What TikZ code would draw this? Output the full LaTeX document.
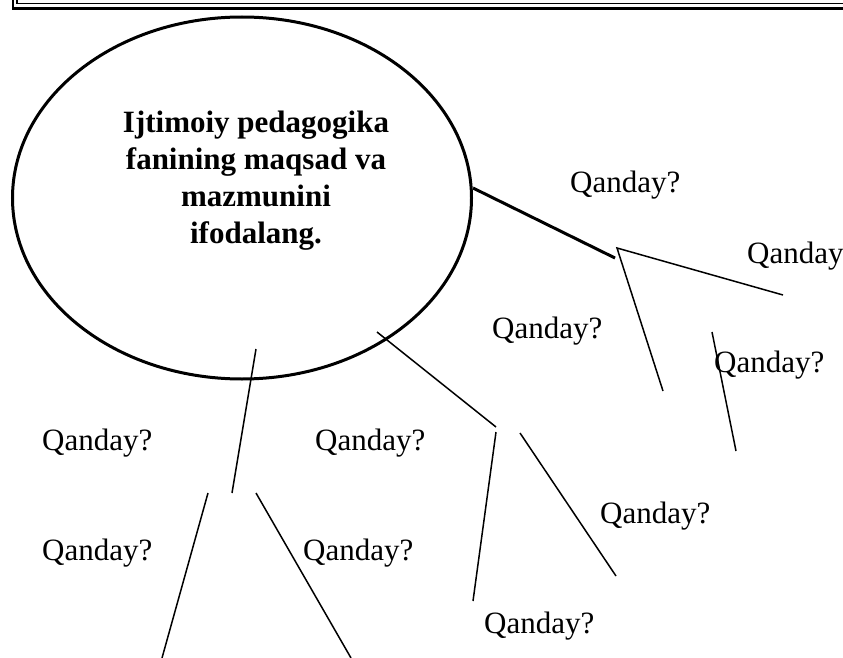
\documentclass[tikz,border=0pt]{standalone}
\usepackage{fontspec}
\setmainfont{Liberation Serif}
\usetikzlibrary{shapes.geometric}
\begin{document}
\begin{tikzpicture}[x=1pt,y=-1pt,
  qtext/.style={anchor=base west, inner sep=0pt, font=\fontsize{31}{37}\selectfont},
  thinline/.style={line width=1.5pt},
  thickline/.style={line width=3pt},
  goalshape/.style={draw, ellipse, line width=3pt, minimum width=459pt, minimum height=362pt, inner sep=0pt}]
\useasboundingbox (0,0) rectangle (843,658);
% top border
\draw[line width=2.5pt] (13,-2) -- (13,8.5) -- (845,8.5);
\draw[line width=1.5pt] (17,-2) -- (17,3.5) -- (845,3.5);
% central ellipse
\node[goalshape] (goal) at (242,198) {};
\node[align=center, inner sep=0pt, font=\bfseries\fontsize{31}{37}\selectfont] (goaltext) at (256,181)
  {Ijtimoiy pedagogika\\fanining maqsad va\\mazmunini\\ifodalang.};
% coordinates
\coordinate (t1) at (473,188);
\coordinate (t2) at (615,258);
\coordinate (a1) at (617,248);
\coordinate (r1) at (783,295);
\coordinate (r2) at (663,391);
\coordinate (r3) at (712,332);
\coordinate (r4) at (736,451);
\coordinate (m1) at (377,332);
\coordinate (m2) at (496,427);
\coordinate (m3) at (496,432);
\coordinate (m4) at (473,601);
\coordinate (m5) at (520,433);
\coordinate (m6) at (616,576);
\coordinate (b1) at (256,349);
\coordinate (b2) at (232,493);
\coordinate (b3) at (208,493);
\coordinate (b4) at (162,658);
\coordinate (b5) at (256,493);
\coordinate (b6) at (351,658);
% connectors
\draw[thickline] (t1) -- (t2);
\draw[thinline] (r2) -- (a1) -- (r1);
\draw[thinline] (r3) -- (r4);
\draw[thinline] (m1) -- (m2);
\draw[thinline] (m3) -- (m4);
\draw[thinline] (m5) -- (m6);
\draw[thinline] (b1) -- (b2);
\draw[thinline] (b3) -- (b4);
\draw[thinline] (b5) -- (b6);
% labels
\node[qtext] (q1) at (570,192) {Qanday?};
\node[qtext] (q2) at (747,263) {Qanday};
\node[qtext] (q3) at (492,338) {Qanday?};
\node[qtext] (q4) at (714,372) {Qanday?};
\node[qtext] (q5) at (42,450) {Qanday?};
\node[qtext] (q6) at (315,450) {Qanday?};
\node[qtext] (q7) at (600,523) {Qanday?};
\node[qtext] (q8) at (42,560) {Qanday?};
\node[qtext] (q9) at (303,560) {Qanday?};
\node[qtext] (q10) at (484,633) {Qanday?};
\end{tikzpicture}
\end{document}
